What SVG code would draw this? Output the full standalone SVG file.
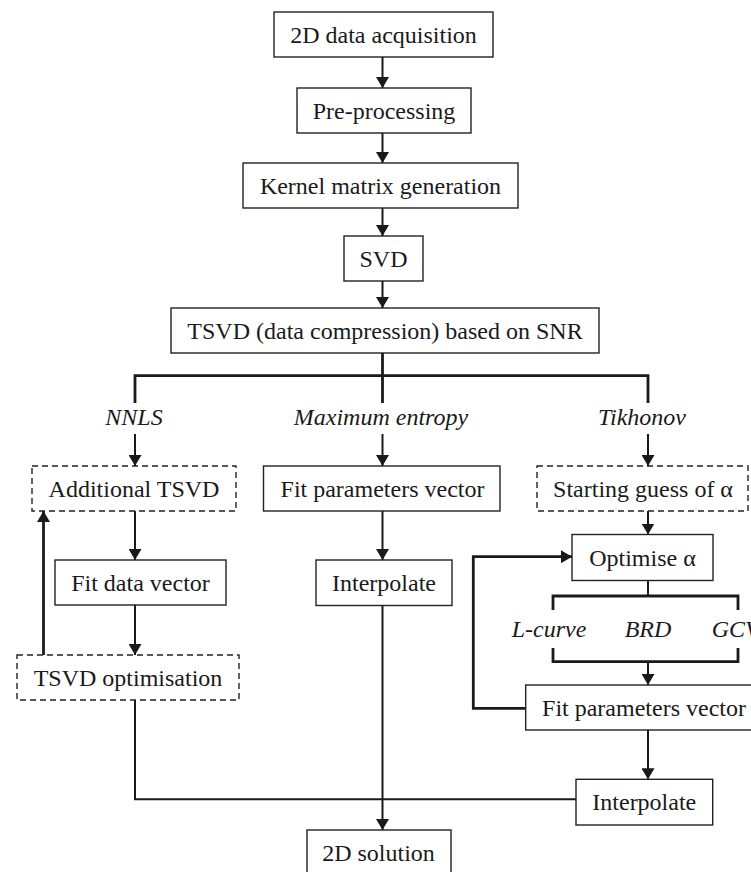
<svg xmlns="http://www.w3.org/2000/svg" width="751" height="872" viewBox="0 0 751 872">
<style>
.box{fill:#fff;stroke:#222;stroke-width:1.4}
.dash{fill:#fff;stroke:#222;stroke-width:1.4;stroke-dasharray:6 4}
.t{font-family:"Liberation Serif","Times New Roman",serif;font-size:24px;fill:#1a1a1a;text-anchor:middle}
.i{font-style:italic}
.c{fill:none;stroke:#1a1a1a;stroke-width:2}
.k{fill:none;stroke:#1a1a1a;stroke-width:2.8}
</style>
<defs>
<marker id="ah" viewBox="0 0 11 13" refX="11" refY="6.5" markerWidth="11" markerHeight="13" markerUnits="userSpaceOnUse" orient="auto">
<path d="M0,0 L11,6.5 L0,13 Z" fill="#1a1a1a"/>
</marker>
</defs>
<rect width="751" height="872" fill="#fff"/>
<g id="connectors">
<line class="c" x1="382.5" y1="57" x2="382.5" y2="88" marker-end="url(#ah)"/>
<line class="c" x1="382.5" y1="133" x2="382.5" y2="163" marker-end="url(#ah)"/>
<line class="c" x1="382.5" y1="208" x2="382.5" y2="236" marker-end="url(#ah)"/>
<line class="c" x1="382.5" y1="281" x2="382.5" y2="308" marker-end="url(#ah)"/>
<line class="k" x1="382.5" y1="353" x2="382.5" y2="403"/>
<path class="k" d="M135,403 V375.7 H648 V403"/>
<line class="c" x1="135" y1="434" x2="135" y2="466" marker-end="url(#ah)"/>
<line class="c" x1="382.5" y1="434" x2="382.5" y2="466" marker-end="url(#ah)"/>
<line class="c" x1="648" y1="434" x2="648" y2="466" marker-end="url(#ah)"/>
<line class="c" x1="135" y1="511" x2="135" y2="560" marker-end="url(#ah)"/>
<line class="c" x1="135" y1="605" x2="135" y2="655" marker-end="url(#ah)"/>
<line class="k" x1="43.5" y1="655" x2="43.5" y2="511" marker-end="url(#ah)"/>
<line class="c" x1="382.5" y1="511" x2="382.5" y2="560" marker-end="url(#ah)"/>
<line class="c" x1="648" y1="511" x2="648" y2="534.5" marker-end="url(#ah)"/>
<line class="c" x1="648" y1="580.5" x2="648" y2="596"/>
<path class="k" d="M553,610 V596 H738 V610"/>
<path class="k" d="M553,648 V661.7 H738 V648"/>
<line class="c" x1="648" y1="661.7" x2="648" y2="685" marker-end="url(#ah)"/>
<path class="k" d="M525.7,708.3 H473.3 V556.7 H572" marker-end="url(#ah)"/>
<line class="c" x1="648" y1="730" x2="648" y2="779.3" marker-end="url(#ah)"/>
<path class="c" d="M135,700 V799.3 H576"/>
<line class="c" x1="382.5" y1="605.5" x2="382.5" y2="830" marker-end="url(#ah)"/>
</g>
<g id="n-acq"><rect class="box" x="274" y="12" width="219" height="45"/><text class="t" x="383.5" y="42.5">2D data acquisition</text></g>
<g id="n-pre"><rect class="box" x="297" y="88" width="174" height="45"/><text class="t" x="384" y="118.5">Pre-processing</text></g>
<g id="n-kernel"><rect class="box" x="243" y="163" width="275" height="45"/><text class="t" x="380.5" y="193.5">Kernel matrix generation</text></g>
<g id="n-svd"><rect class="box" x="344" y="236" width="79" height="45"/><text class="t" x="383.5" y="266.5">SVD</text></g>
<g id="n-tsvd"><rect class="box" x="171" y="308" width="428" height="45"/><text class="t" x="385" y="338.5">TSVD (data compression) based on SNR</text></g>
<g id="l-nnls"><text class="t i" x="134" y="425">NNLS</text></g>
<g id="l-maxent"><text class="t i" x="381" y="425">Maximum entropy</text></g>
<g id="l-tikh"><text class="t i" x="642" y="425">Tikhonov</text></g>
<g id="n-addtsvd"><rect class="dash" x="32" y="466" width="204" height="45"/><text class="t" x="134" y="496.5">Additional TSVD</text></g>
<g id="n-fitparam-mid"><rect class="box" x="263.5" y="466" width="236.5" height="45"/><text class="t" x="382.5" y="496.5">Fit parameters vector</text></g>
<g id="n-startguess"><rect class="dash" x="537" y="466" width="211" height="45"/><text class="t" x="643" y="496.5">Starting guess of α</text></g>
<g id="n-fitdata"><rect class="box" x="55" y="560" width="171" height="45"/><text class="t" x="140.5" y="590.5">Fit data vector</text></g>
<g id="n-interp-mid"><rect class="box" x="316" y="560" width="136" height="45.5"/><text class="t" x="384" y="590.5">Interpolate</text></g>
<g id="n-optalpha"><rect class="box" x="572" y="534.5" width="141" height="46"/><text class="t" x="642.5" y="565.5">Optimise α</text></g>
<g id="l-lcurve"><text class="t i" x="549" y="637">L-curve</text></g>
<g id="l-brd"><text class="t i" x="648" y="637">BRD</text></g>
<g id="l-gcv"><text class="t i" x="711.7" y="637" style="text-anchor:start">GCV</text></g>
<g id="n-tsvdopt"><rect class="dash" x="17" y="655" width="222" height="45"/><text class="t" x="128" y="685.5">TSVD optimisation</text></g>
<g id="n-fitparam-right"><rect class="box" x="525.7" y="685" width="236.5" height="45"/><text class="t" x="644" y="715.5">Fit parameters vector</text></g>
<g id="n-interp-right"><rect class="box" x="576" y="779.3" width="136.7" height="45.7"/><text class="t" x="644.3" y="810">Interpolate</text></g>
<g id="n-solution"><rect class="box" x="307" y="830" width="144" height="50"/><text class="t" x="378.5" y="861">2D solution</text></g>
</svg>
